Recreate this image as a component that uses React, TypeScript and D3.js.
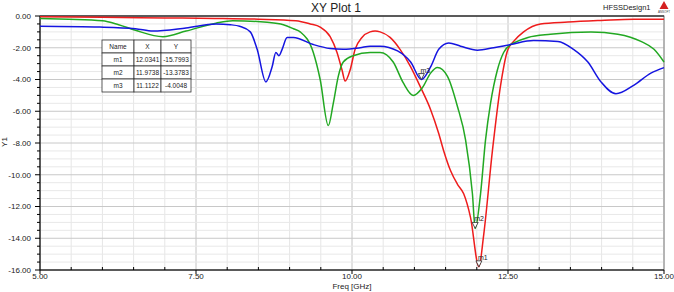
import React from 'react';
import * as d3 from 'd3';

// S-parameter curves (GHz, dB)
const redFreq = [5.0, 6.0, 7.0, 7.8, 8.5, 9.1, 9.33, 9.49, 9.65, 9.76, 9.84, 9.89, 9.97, 10.05, 10.16, 10.29, 10.37, 10.45, 10.61, 10.77, 10.94, 11.1, 11.26, 11.39, 11.47, 11.58, 11.69, 11.79, 11.9, 12.034, 12.11, 12.25, 12.38, 12.49, 12.59, 12.75, 13.02, 13.46, 13.99, 14.52, 15.0];
const redDb = [-0.05, -0.08, -0.12, -0.15, -0.2, -0.3, -0.5, -0.7, -1.3, -2.3, -3.4, -4.1, -3.4, -2.1, -1.35, -1.0, -0.95, -1.0, -1.35, -2.1, -3.2, -4.5, -5.9, -7.4, -8.5, -9.75, -10.6, -11.2, -12.7, -15.8, -13.8, -8.5, -4.4, -2.2, -1.6, -1.0, -0.5, -0.38, -0.28, -0.2, -0.2];

const greenFreq = [5.0, 5.46, 6.0, 6.26, 6.53, 6.97, 7.34, 7.82, 8.09, 8.64, 8.9, 9.06, 9.17, 9.38, 9.49, 9.62, 9.7, 9.78, 9.86, 10.02, 10.29, 10.45, 10.66, 10.82, 10.98, 11.13, 11.26, 11.37, 11.53, 11.69, 11.82, 11.93, 11.974, 12.06, 12.14, 12.22, 12.33, 12.43, 12.54, 12.59, 12.82, 13.18, 13.83, 14.26, 14.63, 14.84, 15.0];
const greenDb = [-0.15, -0.2, -0.3, -0.55, -0.9, -1.3, -0.95, -0.45, -0.3, -0.4, -0.55, -0.8, -1.0, -2.3, -4.0, -6.9, -5.5, -3.8, -2.9, -2.5, -2.3, -2.3, -2.9, -4.2, -5.0, -4.5, -3.6, -3.25, -3.8, -5.7, -7.8, -11.2, -13.38, -11.2, -7.8, -5.5, -3.4, -2.3, -1.8, -1.7, -1.35, -1.15, -1.0, -1.15, -1.6, -2.1, -2.9];

const blueFreq = [5.0, 5.96, 6.53, 6.81, 7.34, 7.82, 8.05, 8.2, 8.37, 8.48, 8.62, 8.72, 8.78, 8.83, 8.88, 8.96, 9.06, 9.38, 9.65, 9.86, 10.13, 10.29, 10.45, 10.73, 10.94, 11.112, 11.26, 11.39, 11.55, 11.74, 12.01, 12.27, 12.54, 12.91, 13.3, 13.55, 13.78, 13.99, 14.23, 14.52, 14.79, 15.0];
const blueDb = [-0.65, -0.7, -0.8, -0.95, -0.75, -0.5, -0.55, -0.65, -1.0, -2.1, -4.15, -3.2, -2.3, -2.5, -2.1, -1.35, -1.35, -1.8, -2.05, -2.1, -2.0, -1.9, -1.9, -2.2, -2.9, -4.0, -3.2, -2.1, -1.7, -1.9, -2.15, -2.0, -1.8, -1.55, -1.6, -2.1, -2.9, -4.15, -4.9, -4.35, -3.6, -3.25];

const markerNames = ['m1', 'm2', 'm3'];
const markerX = [12.0341, 11.9738, 11.1122];
const markerY = [-15.7993, -13.3783, -4.0048];
const tableHeader = ['Name', 'X', 'Y'];

const xTicks = [5, 7.5, 10, 12.5, 15];
const yTicks = [0, -2, -4, -6, -8, -10, -12, -14, -16];

const font = "'Liberation Sans', Arial, sans-serif";

const App = () => {
  const width = 674;
  const height = 292;
  const margin = { top: 16, right: 10, bottom: 22, left: 40 };

  const xScale = d3.scaleLinear().domain([5, 15]).range([margin.left, width - margin.right]);
  const yScale = d3.scaleLinear().domain([-16, 0]).range([height - margin.bottom, margin.top]);

  const line = d3.line<[number, number]>()
    .x(d => xScale(d[0]))
    .y(d => yScale(d[1]))
    .curve(d3.curveMonotoneX);

  const series = [
    { color: '#ee1c1c', f: redFreq, v: redDb },
    { color: '#22a822', f: greenFreq, v: greenDb },
    { color: '#1515e0', f: blueFreq, v: blueDb },
  ];

  const xMinor = d3.range(5, 15.001, 0.5);
  const yMinor = d3.range(-16, 0.001, 0.5);

  const x0 = xScale(5), x1 = xScale(15);
  const y0 = yScale(-16), y1 = yScale(0);

  // marker table
  const colX = [102, 134, 161, 191];
  const rowH = 13;
  const tableTop = 40;
  const rows = [tableHeader, ...markerNames.map((n, i) => [n, markerX[i].toFixed(4), markerY[i].toFixed(4)])];

  return (
    <svg width={width} height={height} style={{ position: 'absolute', left: 0, top: 0, background: '#fff' }}>
      {/* grid */}
      {xMinor.map(v => (
        <line key={'gx' + v} x1={xScale(v)} x2={xScale(v)} y1={y1} y2={y0}
          stroke={v % 2.5 === 0 ? '#c4c4c4' : '#e6e6e6'} strokeWidth={1} />
      ))}
      {yMinor.map(v => (
        <line key={'gy' + v} x1={x0} x2={x1} y1={yScale(v)} y2={yScale(v)}
          stroke={v % 2 === 0 ? '#c8c8c8' : '#e8e8e8'} strokeWidth={1} />
      ))}

      {/* frame */}
      <rect x={x0} y={y1} width={x1 - x0} height={y0 - y1} fill="none" stroke="#888" strokeWidth={1} />
      <line x1={x0} x2={x1} y1={y1} y2={y1} stroke="#000" />
      <line x1={x0} x2={x0} y1={y1} y2={y0} stroke="#000" />
      <line x1={x0} x2={x1} y1={y0} y2={y0} stroke="#000" />

      {/* y axis ticks */}
      {yMinor.map(v => (
        <line key={'ty' + v} x1={x0} x2={x0 - (v % 2 === 0 ? 5 : 3)} y1={yScale(v)} y2={yScale(v)} stroke="#000" />
      ))}
      {yTicks.map(v => (
        <text key={'ly' + v} x={31} y={yScale(v)} dy="0.35em" textAnchor="end"
          style={{ fontSize: '8px', fontFamily: font, fill: '#222' }}>{v.toFixed(2)}</text>
      ))}

      {/* x axis ticks */}
      {xMinor.map(v => (
        <line key={'tx' + v} x1={xScale(v)} x2={xScale(v)} y1={y0} y2={v % 2.5 === 0 ? y0 + 4 : y0 - 3} stroke="#000" />
      ))}
      {xTicks.map(v => (
        <text key={'lx' + v} x={xScale(v)} y={279} textAnchor="middle"
          style={{ fontSize: '8px', fontFamily: font, fill: '#222' }}>{v.toFixed(2)}</text>
      ))}

      {/* curves */}
      {series.map((s, i) => (
        <path key={i}
          d={line(s.f.map((f, j) => [f, s.v[j]] as [number, number])) || ''}
          fill="none" stroke={s.color} strokeWidth={1.5} />
      ))}

      {/* markers */}
      {markerNames.map((n, i) => {
        const mx = xScale(markerX[i]);
        const my = yScale(markerY[i]);
        return (
          <g key={n}>
            <path d={`M ${mx - 3} ${my - 6} L ${mx + 3} ${my - 6} L ${mx} ${my} Z`} fill="#fff" stroke="#222" strokeWidth={0.8} />
            <text x={mx - 1} y={my - 7} style={{ fontSize: '7px', fontFamily: font, fill: '#222' }}>{n}</text>
          </g>
        );
      })}

      {/* marker table */}
      <g>
        {rows.map((r, ri) => (
          <g key={'row' + ri}>
            {r.map((c, ci) => (
              <g key={ci}>
                <rect x={colX[ci]} y={tableTop + ri * rowH} width={colX[ci + 1] - colX[ci]} height={rowH}
                  fill="#fff" stroke="#333" strokeWidth={0.8} />
                <text x={(colX[ci] + colX[ci + 1]) / 2} y={tableTop + ri * rowH + rowH / 2} dy="0.35em" textAnchor="middle"
                  style={{ fontSize: '6.5px', fontFamily: font, fill: '#222' }}>{c}</text>
              </g>
            ))}
          </g>
        ))}
      </g>

      {/* titles */}
      <text x={336} y={12} textAnchor="middle" style={{ fontSize: '12px', fontFamily: font, fill: '#222' }}>XY Plot 1</text>
      <text x={603} y={10} style={{ fontSize: '7.5px', fontFamily: font, fill: '#222' }}>HFSSDesign1</text>
      <path d="M 664 1 L 668.5 9 L 659.5 9 Z" fill="#d42020" />
      <text x={664} y={12.5} textAnchor="middle" style={{ fontSize: '3px', fontFamily: font, fill: '#444' }}>ANSOFT</text>
      <text x={352} y={289} textAnchor="middle" style={{ fontSize: '8px', fontFamily: font, fill: '#222' }}>Freq [GHz]</text>
      <text transform="translate(7,142) rotate(-90)" textAnchor="middle" style={{ fontSize: '8px', fontFamily: font, fill: '#222' }}>Y1</text>
    </svg>
  );
};

export default App;
